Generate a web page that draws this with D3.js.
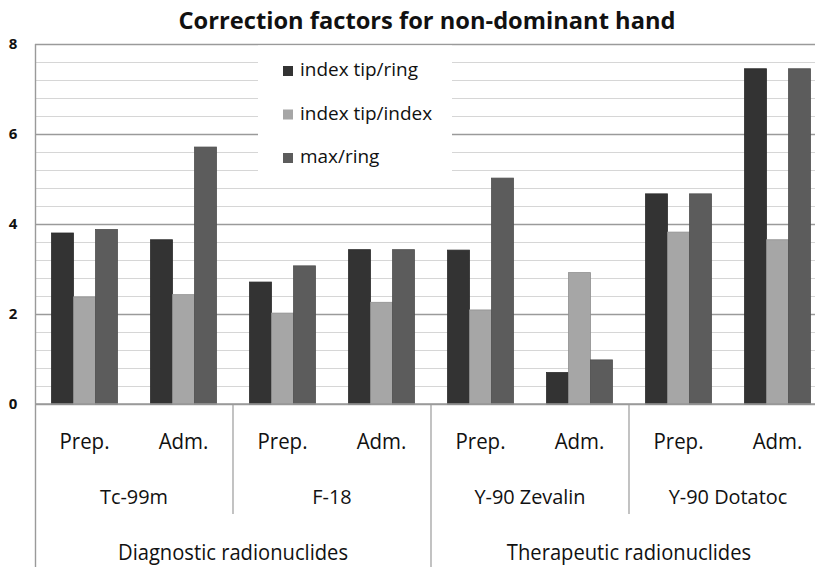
<!DOCTYPE html>
<html>
<head>
<meta charset="utf-8">
<script src="https://cdn.jsdelivr.net/npm/d3@7"></script>
<style>
  html, body { margin: 0; padding: 0; background: #fff; }
  svg { display: block; font-family: "Open Sans", "DejaVu Sans", sans-serif; }
</style>
</head>
<body>
<svg id="chart" width="815" height="567"></svg>
<script>
// ---- data ----
const categories = ["Prep.", "Adm.", "Prep.", "Adm.", "Prep.", "Adm.", "Prep.", "Adm."];
const groups = ["Tc-99m", "F-18", "Y-90 Zevalin", "Y-90 Dotatoc"];
const supergroups = ["Diagnostic radionuclides", "Therapeutic radionuclides"];
const seriesNames = ["index tip/ring", "index tip/index", "max/ring"];
const indexTipRing  = [3.80, 3.65, 2.71, 3.43, 3.42, 0.70, 4.67, 7.45];
const indexTipIndex = [2.38, 2.43, 2.02, 2.26, 2.09, 2.92, 3.82, 3.65];
const maxRing       = [3.88, 5.71, 3.07, 3.43, 5.02, 0.98, 4.67, 7.45];
const yTicks = [0, 2, 4, 6, 8];
const title = "Correction factors for non-dominant hand";

const seriesValues = [indexTipRing, indexTipIndex, maxRing];
const colors = ["#333333", "#a6a6a6", "#5c5c5c"];

// ---- layout ----
const svg = d3.select("#chart");
const mLeft = 35, mRight = 827, mTop = 44, mBottom = 404;

const x = d3.scaleBand().domain(d3.range(categories.length)).range([mLeft, mRight]).padding(0);
const xs = d3.scaleBand().domain(d3.range(seriesNames.length)).range([0, x.bandwidth()])
  .paddingInner(0).paddingOuter(0.75);
const y = d3.scaleLinear().domain([0, 8]).range([mBottom, mTop]);

// minor gridlines
const minor = d3.range(0, 8.001, 0.4).filter(v => Math.abs(v / 2 - Math.round(v / 2)) > 1e-6);
svg.append("g").selectAll("line").data(minor).join("line")
  .attr("x1", mLeft).attr("x2", mRight)
  .attr("y1", d => Math.round(y(d)) + 0.5).attr("y2", d => Math.round(y(d)) + 0.5)
  .attr("stroke", "#d6d6d6").attr("stroke-width", 1.2);

// major gridlines via axis
const yAxis = d3.axisLeft(y).tickValues(yTicks).tickSize(-(mRight - mLeft)).tickFormat("");
const gy = svg.append("g").attr("transform", `translate(${mLeft},0)`).call(yAxis);
gy.select(".domain").remove();
gy.selectAll(".tick line").attr("stroke", "#9a9a9a").attr("stroke-width", 1.6);

// legend background (hides gridlines)
svg.append("rect").attr("x", 258).attr("y", y(8) + 1.5).attr("width", 194).attr("height", 136)
  .attr("fill", "#fff");

// bars
const barG = svg.append("g");
seriesValues.forEach((vals, si) => {
  barG.append("g").selectAll("rect").data(vals).join("rect")
    .attr("x", (d, i) => x(i) + xs(si))
    .attr("width", xs.bandwidth())
    .attr("y", d => y(d))
    .attr("height", d => y(0) - y(d))
    .attr("fill", colors[si])
    .attr("stroke", d3.color(colors[si]).darker(0.4))
    .attr("stroke-width", 0.8);
});

// y tick labels
svg.append("g").selectAll("text").data(yTicks).join("text")
  .attr("x", 13).attr("y", d => y(d)).attr("dy", "0.36em")
  .attr("text-anchor", "middle").attr("font-weight", "bold")
  .attr("font-size", 15).attr("fill", "#111")
  .text(d => d);

// x axis structure lines
const lineColor = "#9a9a9a";
svg.append("line").attr("x1", mLeft).attr("x2", mRight).attr("y1", mBottom).attr("y2", mBottom)
  .attr("stroke", lineColor).attr("stroke-width", 1.6);
svg.append("line").attr("x1", mLeft + 0.5).attr("x2", mLeft + 0.5).attr("y1", mTop).attr("y2", 567)
  .attr("stroke", lineColor).attr("stroke-width", 1.4);
// group separators
svg.append("g").selectAll("line").data(d3.range(1, groups.length)).join("line")
  .attr("x1", i => x(i * 2)).attr("x2", i => x(i * 2))
  .attr("y1", mBottom).attr("y2", i => (i % 2 === 0 ? 567 : 514))
  .attr("stroke", lineColor).attr("stroke-width", 1.2);

// condense text horizontally (Calibri-like proportions)
function measure(txt, size, weight) {
  const t = svg.append("text").attr("font-size", size).attr("font-weight", weight).text(txt);
  const w = t.node().getComputedTextLength();
  t.remove();
  return w;
}
function condense(sel, size, weight, refText, refW) {
  const k = refW / measure(refText, size, weight);
  sel.attr("font-size", size).attr("font-weight", weight)
    .each(function () {
      const w = this.getComputedTextLength();
      d3.select(this).attr("textLength", w * k).attr("lengthAdjust", "spacingAndGlyphs");
    });
}

// category labels
const catT = svg.append("g").attr("fill", "#111").selectAll("text").data(categories).join("text")
  .attr("x", (d, i) => x(i) + x.bandwidth() / 2).attr("y", 449)
  .attr("text-anchor", "middle").text(d => d);
condense(catT, 21, "normal", "Prep.", 50);

const grpT = svg.append("g").attr("fill", "#111").selectAll("text").data(groups).join("text")
  .attr("x", (d, i) => (x(i * 2) + x(i * 2 + 1) + x.bandwidth()) / 2).attr("y", 504)
  .attr("text-anchor", "middle").text(d => d);
condense(grpT, 20, "normal", "Tc-99m", 68);

const supT = svg.append("g").attr("fill", "#111").selectAll("text").data(supergroups).join("text")
  .attr("x", (d, i) => (x(i * 4) + x(i * 4 + 3) + x.bandwidth()) / 2).attr("y", 560)
  .attr("text-anchor", "middle").text(d => d);
condense(supT, 21, "normal", "Diagnostic radionuclides", 230);

// legend
const leg = svg.append("g").attr("fill", "#111").selectAll("g").data(seriesNames).join("g")
  .attr("transform", (d, i) => `translate(283, ${76 + i * 43.5})`);
leg.append("rect").attr("x", 0).attr("y", -10).attr("width", 10).attr("height", 10)
  .attr("fill", (d, i) => colors[i]);
const legT = leg.append("text").attr("x", 17).attr("y", 0).text(d => d);
condense(legT, 18, "normal", "index tip/ring", 118);

// title
const titleT = svg.append("text").attr("x", 427).attr("y", 29).attr("text-anchor", "middle")
  .attr("fill", "#111").text(title);
condense(titleT, 22.5, "bold", title, 497);
</script>
</body>
</html>
